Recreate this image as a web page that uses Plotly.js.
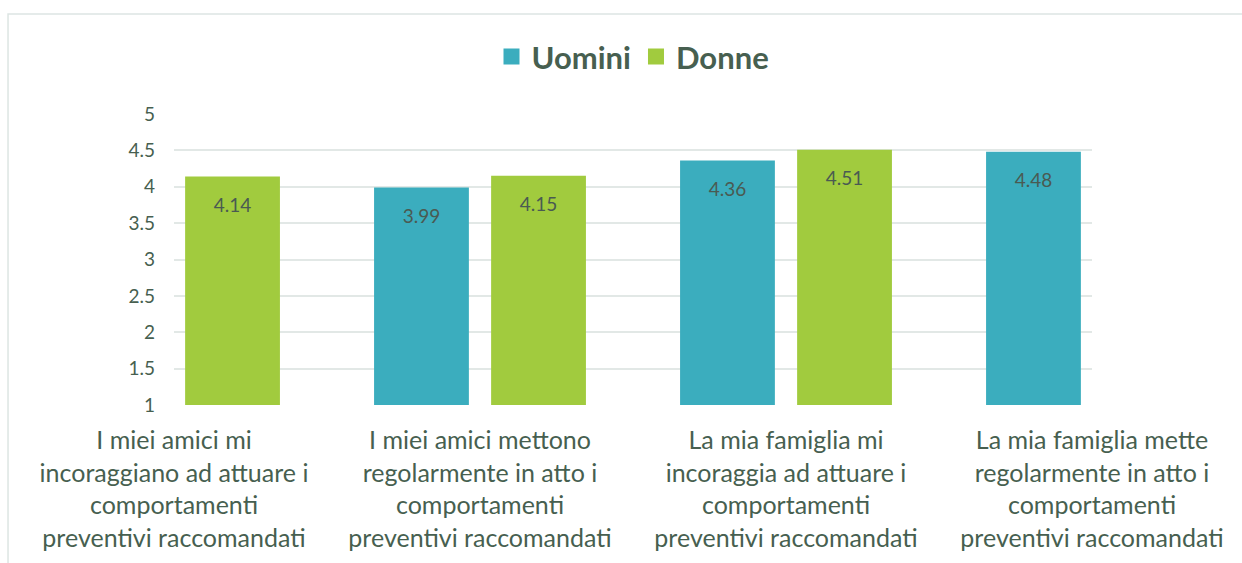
<!DOCTYPE html>
<html>
<head>
<meta charset="utf-8">
<script src="https://cdn.plot.ly/plotly-3.0.1.min.js"></script>
<style>html,body{margin:0;padding:0;background:#fff;}#chart{width:1242px;height:563px;}</style>
</head>
<body>
<div id="chart"></div>
<script>
const categories = [
  "I miei amici mi|incoraggiano ad attuare i|comportamenti|preventivi raccomandati",
  "I miei amici mettono|regolarmente in atto i|comportamenti|preventivi raccomandati",
  "La mia famiglia mi|incoraggia ad attuare i|comportamenti|preventivi raccomandati",
  "La mia famiglia mette|regolarmente in atto i|comportamenti|preventivi raccomandati"
];
const uomini = [null, 3.99, 4.36, 4.48];
const donne = [4.14, 4.15, 4.51, null];
const yTicks = [1, 1.5, 2, 2.5, 3, 3.5, 4, 4.5, 5];

const textColor = "#475f50";
const font = "Lato, 'Open Sans', sans-serif";
const colU = "#3badbe";
const colD = "#a1cb3e";
const xIdx = categories.map((c, i) => i);
const tickText = categories.map(c => c.split("|").join("<br>"));
const labels = arr => arr.map(v => v == null ? "" :
  "\u00a0<br><span style=\"font-size:19px\">" + v.toFixed(2) + "</span>");
const heights = arr => arr.map(v => v == null ? null : v - 1);

const barCommon = {type: "bar", base: 1, textposition: "inside", insidetextanchor: "end",
  constraintext: "none", insidetextfont: {color: "#4a5a52", size: 14, family: font},
  hoverinfo: "y", showlegend: false};

const traces = [
  Object.assign({}, barCommon, {name: "Uomini", legendgroup: "u", x: xIdx, y: heights(uomini),
    marker: {color: colU}, text: labels(uomini)}),
  Object.assign({}, barCommon, {name: "Donne", legendgroup: "d", x: xIdx, y: heights(donne),
    marker: {color: colD}, text: labels(donne)}),
  {type: "scatter", mode: "markers", name: "Uomini", legendgroup: "u", x: [null], y: [null],
   marker: {symbol: "square", size: 19, color: colU}, showlegend: true, hoverinfo: "skip"},
  {type: "scatter", mode: "markers", name: "Donne", legendgroup: "d", x: [null], y: [null],
   marker: {symbol: "square", size: 19, color: colD}, showlegend: true, hoverinfo: "skip"}
];

const layout = {
  width: 1242, height: 563,
  margin: {l: 174, r: 150, t: 114, b: 158, autoexpand: false},
  paper_bgcolor: "#ffffff", plot_bgcolor: "#ffffff",
  font: {family: font, color: textColor},
  barmode: "group", bargap: 0.235, bargroupgap: 0.19,
  showlegend: true,
  legend: {orientation: "h", x: 0.5, xanchor: "center", y: 1.196, yanchor: "middle",
           bgcolor: "rgba(0,0,0,0)",
           font: {size: 31, color: textColor, family: font, weight: "bold"},
           itemwidth: 30, traceorder: "normal"},
  xaxis: {range: [0, 3], tickvals: xIdx, ticktext: tickText, showgrid: false,
          zeroline: false, showline: false, ticks: "", ticklabelstandoff: 18,
          tickfont: {size: 25, color: textColor, family: font}, tickangle: 0, automargin: false},
  yaxis: {range: [1, 5], tickvals: yTicks, ticktext: yTicks.map(String),
          showgrid: true, gridcolor: "#e2e8e6", gridwidth: 2, zeroline: false,
          showline: false, ticks: "", ticklabelstandoff: 18,
          tickfont: {size: 19, color: textColor, family: font}, automargin: false},
  shapes: [
    {type: "rect", xref: "paper", yref: "paper", x0: -0.1808, x1: 1.3, y0: -0.7, y1: 1.3436,
     line: {color: "#dde5e3", width: 1.5}, fillcolor: "rgba(0,0,0,0)", layer: "below"}
  ]
};

Plotly.newPlot("chart", traces, layout, {displayModeBar: false, staticPlot: true});
</script>
</body>
</html>
